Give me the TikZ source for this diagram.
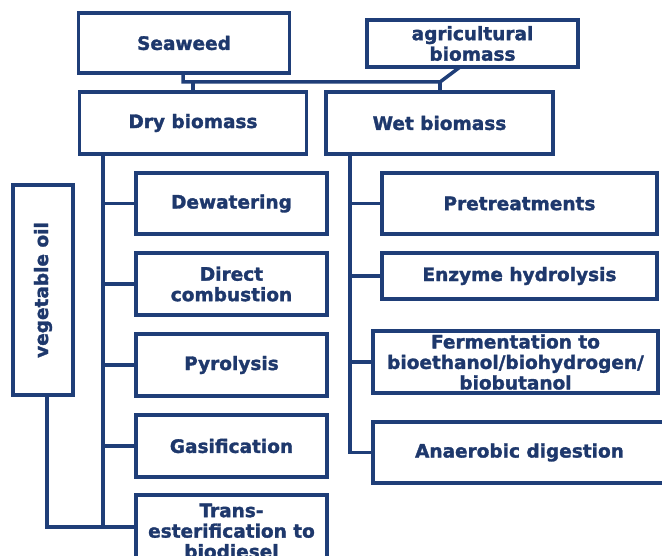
\documentclass[tikz,border=0pt]{standalone}
\usepackage{fontspec}
\setmainfont{DejaVu Sans}
\newfontfamily\heavy{DejaVu Sans Bold}[FakeBold=1.6]
\definecolor{navy}{RGB}{31,62,120}
\definecolor{txt}{RGB}{30,56,108}
\begin{document}
\begin{tikzpicture}[x=1pt,y=-1pt,
  lbl/.style={text=txt,font=\fontsize{18.5}{20.5}\selectfont\heavy},
  box/.style={lbl,draw=navy,line width=3.5pt,fill=white,inner sep=0pt,align=center},
  link/.style={draw=navy,line width=3.5pt}]
\useasboundingbox (0,0) rectangle (662,556);
\clip (0,0) rectangle (662,556);
% top level
\node[box,minimum width=211,minimum height=60] (seaweed) at (184,43) {Seaweed};
\node[box,minimum width=211,minimum height=47] (agri) at (472.5,43.5) {agricultural\\biomass};
\node[box,minimum width=227,minimum height=62] (dry) at (193,123) {Dry biomass};
\node[box,minimum width=227,minimum height=62] (wet) at (439.5,123) {Wet biomass};
% dry branch
\node[box,minimum width=60,minimum height=210] (veg) at (43,290) {};
\node[lbl,rotate=90] (vegtxt) at (veg.center) {vegetable oil};
\node[box,minimum width=191,minimum height=61] (dewater) at (231.5,203.5) {Dewatering};
\node[box,minimum width=191,minimum height=62] (direct) at (231.5,284) {Direct\\combustion};
\node[box,minimum width=191,minimum height=62] (pyro) at (231.5,365) {Pyrolysis};
\node[box,minimum width=191,minimum height=62] (gas) at (231.5,446) {Gasification};
\node[box,minimum width=191,minimum height=72] (trans) at (231.5,531) {Trans-\\esterification to\\biodiesel};
% wet branch
\node[box,minimum width=275,minimum height=61] (pre) at (519.5,203.5) {Pretreatments};
\node[box,minimum width=275,minimum height=46] (enz) at (519.5,276) {Enzyme hydrolysis};
\node[box,minimum width=285,minimum height=62] (ferm) at (515.5,362) {Fermentation to\\bioethanol/biohydrogen/\\biobutanol};
\node[box,minimum width=293,minimum height=61] (anaer) at (519.5,452.5) {Anaerobic digestion};
% top connectors
\coordinate (j1) at (183,82);
\coordinate (j2) at (440,82);
\coordinate (jd) at (193,82);
\coordinate (ja) at (460,67);
\draw[link] (seaweed.south -| j1) -- (j1) -- (j2) -- (ja);
\draw[link] (jd) -- (dry.north);
\draw[link] (j2) -- (wet.north -| j2);
% dry trunk
\coordinate (dt) at (103,527);
\draw[link] (dry.south -| dt) -- (dt) -- (dt -| trans.west);
\draw[link] (dt |- dewater.west) -- (dewater.west);
\draw[link] (dt |- direct.west) -- (direct.west);
\draw[link] (dt |- pyro.west) -- (pyro.west);
\draw[link] (dt |- gas.west) -- (gas.west);
\coordinate (vb) at (47,527);
\draw[link] (veg.south -| vb) -- (vb) -- (dt);
% wet trunk
\coordinate (wt) at (350,452.5);
\draw[link] (wet.south -| wt) -- (wt) -- (anaer.west);
\draw[link] (wt |- pre.west) -- (pre.west);
\draw[link] (wt |- enz.west) -- (enz.west);
\draw[link] (wt |- ferm.west) -- (ferm.west);
\end{tikzpicture}
\end{document}
